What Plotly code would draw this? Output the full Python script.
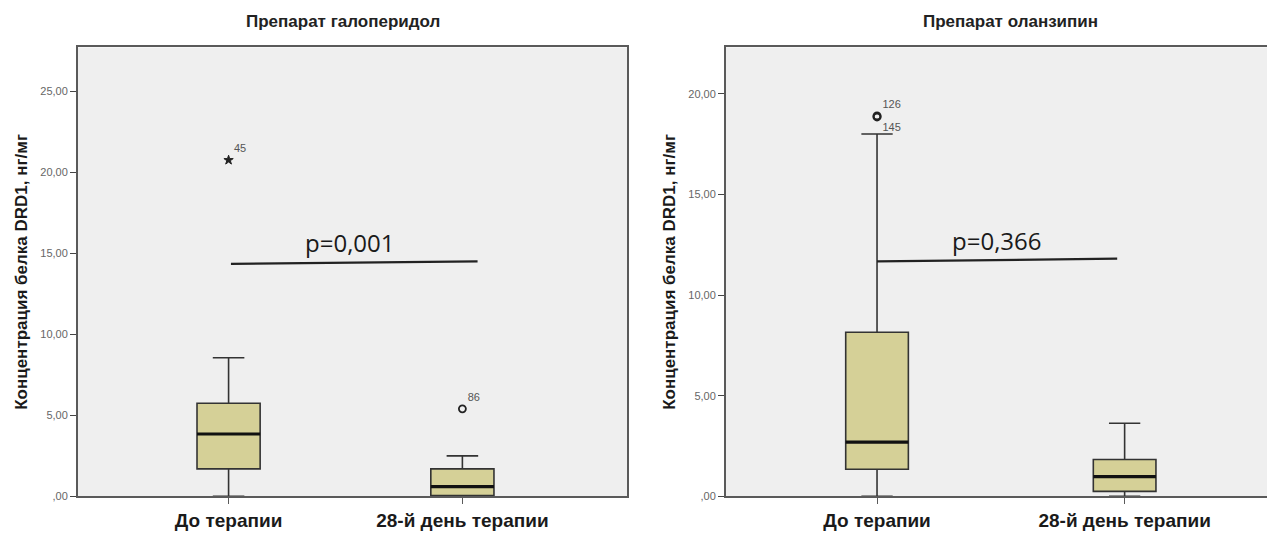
import plotly.graph_objects as go

# ---------------- data ----------------
categories = ["До терапии", "28-й день терапии"]
cat_pos = [0, 1]

y_tickvals_halo = [0, 5, 10, 15, 20, 25]
y_ticktext_halo = [",00", "5,00", "10,00", "15,00", "20,00", "25,00"]
y_tickvals_olan = [0, 5, 10, 15, 20]
y_ticktext_olan = [",00", "5,00", "10,00", "15,00", "20,00"]

# Haloperidol
halo_lower = [0.0, 0.0]
halo_q1 = [1.70, 0.05]
halo_median = [3.85, 0.60]
halo_q3 = [5.75, 1.70]
halo_upper = [8.55, 2.50]
halo_out_x = [0, 1]
halo_out_y = [20.75, 5.40]
halo_out_ids = ["45", "86"]
halo_out_symbols = ["star", "circle-open"]
halo_p_x = [0.01, 1.065]
halo_p_y = [14.35, 14.50]
halo_p_text = "p=0,001"

# Olanzapine
olan_lower = [0.0, 0.0]
olan_q1 = [1.35, 0.25]
olan_median = [2.70, 0.98]
olan_q3 = [8.15, 1.83]
olan_upper = [18.0, 3.63]
olan_out_x = [0, 0]
olan_out_y = [18.9, 18.85]
olan_out_ids = ["126", "145"]
olan_out_pos = ["top right", "bottom right"]
olan_p_x = [0.0, 0.97]
olan_p_y = [11.67, 11.81]
olan_p_text = "p=0,366"

titles = ["Препарат галоперидол", "Препарат оланзипин"]
y_title = "Концентрация белка DRD1, нг/мг"

# ---------------- style ----------------
W, H = 1267, 537
BOX_FILL = "#d5d097"
EDGE = "#333333"
FRAME = "#5a5a5a"
BG = "#efefef"
LABEL_FONT = "Liberation Sans, Arial, sans-serif"
SMALL_FONT = "Liberation Sans Narrow, Arial Narrow, sans-serif"

fig = go.Figure()


def add_panel(xa, ya, lower, q1, med, q3, upper, width):
    fig.add_trace(go.Box(
        x=cat_pos, lowerfence=lower, q1=q1, median=med, q3=q3, upperfence=upper,
        width=width, whiskerwidth=0.5, fillcolor=BOX_FILL,
        line=dict(color=EDGE, width=1.6), boxpoints=False,
        xaxis=xa, yaxis=ya, showlegend=False, hoverinfo="skip"))
    for i, m in zip(cat_pos, med):
        fig.add_trace(go.Scatter(
            x=[i - width / 2, i + width / 2], y=[m, m], mode="lines",
            line=dict(color="#111111", width=3.2),
            xaxis=xa, yaxis=ya, showlegend=False, hoverinfo="skip"))


add_panel("x", "y", halo_lower, halo_q1, halo_median, halo_q3, halo_upper, 0.27)
add_panel("x2", "y2", olan_lower, olan_q1, olan_median, olan_q3, olan_upper, 0.253)

# outliers
for xv, yv, lab, sym in zip(halo_out_x, halo_out_y, halo_out_ids, halo_out_symbols):
    fig.add_trace(go.Scatter(
        x=[xv], y=[yv], mode="markers+text", text=[lab], textposition="top right",
        textfont=dict(family=SMALL_FONT, size=11, color="#555"),
        marker=dict(symbol=sym, size=7, color="#222",
                    line=dict(color="#222", width=1.0 if sym == "star" else 1.8)),
        xaxis="x", yaxis="y", showlegend=False, hoverinfo="skip"))

for xv, yv, lab, pos in zip(olan_out_x, olan_out_y, olan_out_ids, olan_out_pos):
    fig.add_trace(go.Scatter(
        x=[xv], y=[yv], mode="markers+text", text=[lab], textposition=pos,
        textfont=dict(family=SMALL_FONT, size=11, color="#555"),
        marker=dict(symbol="circle-open", size=7, color="#222", line=dict(color="#222", width=2)),
        xaxis="x2", yaxis="y2", showlegend=False, hoverinfo="skip"))

# p-value lines
fig.add_trace(go.Scatter(x=halo_p_x, y=halo_p_y, mode="lines",
                         line=dict(color="#222", width=2.2),
                         xaxis="x", yaxis="y", showlegend=False, hoverinfo="skip"))
fig.add_trace(go.Scatter(x=olan_p_x, y=olan_p_y, mode="lines",
                         line=dict(color="#222", width=2.2),
                         xaxis="x2", yaxis="y2", showlegend=False, hoverinfo="skip"))

annotations = [
    dict(text=halo_p_text, x=sum(halo_p_x) / 2 - 0.02, y=max(halo_p_y), xref="x", yref="y",
         yanchor="bottom", yshift=0, showarrow=False,
         font=dict(family="Open Sans, sans-serif", size=24, color="#1a1a1a")),
    dict(text=olan_p_text, x=sum(olan_p_x) / 2, y=max(olan_p_y), xref="x2", yref="y2",
         yanchor="bottom", yshift=0, showarrow=False,
         font=dict(family="Open Sans, sans-serif", size=24, color="#1a1a1a")),
    dict(text=titles[0], x=343 / W, y=1 - 22 / H, xref="paper", yref="paper",
         xanchor="center", yanchor="middle",
         showarrow=False, font=dict(family=LABEL_FONT, size=17, color="#222", weight="bold")),
    dict(text=titles[1], x=1010 / W, y=1 - 22 / H, xref="paper", yref="paper",
         xanchor="center", yanchor="middle",
         showarrow=False, font=dict(family=LABEL_FONT, size=17, color="#222", weight="bold")),
]

y_dom = [1 - 502 / H, 1 - 48 / H]
tickfont = dict(family=SMALL_FONT, size=11, color="#666")
xtickfont = dict(family=LABEL_FONT, size=19, color="#1a1a1a", weight="bold")
ytitle = dict(text=y_title, font=dict(family=LABEL_FONT, size=17, color="#1a1a1a", weight="bold"),
              standoff=8)

fig.update_layout(
    width=W, height=H,
    margin=dict(l=0, r=0, t=0, b=0),
    paper_bgcolor="white",
    plot_bgcolor=BG,
    annotations=annotations,
    xaxis=dict(domain=[78 / W, 627 / W], range=[-0.644, 1.704], tickvals=cat_pos, ticktext=categories,
               tickfont=xtickfont, ticks="outside", ticklen=6, tickcolor=FRAME,
               showline=True, linecolor=FRAME, linewidth=2, mirror=True,
               showgrid=False, zeroline=False, anchor="y"),
    yaxis=dict(domain=y_dom, range=[0, 27.7], tickvals=y_tickvals_halo, ticktext=y_ticktext_halo,
               tickfont=tickfont, ticks="outside", ticklen=6, tickcolor="#444",
               showline=True, linecolor=FRAME, linewidth=2, mirror=True,
               showgrid=False, zeroline=False, title=ytitle, anchor="x"),
    xaxis2=dict(domain=[726 / W, 1.0], range=[-0.61, 1.575], tickvals=cat_pos, ticktext=categories,
                tickfont=xtickfont, ticks="outside", ticklen=6, tickcolor=FRAME,
                showline=True, linecolor=FRAME, linewidth=2, mirror=True,
                showgrid=False, zeroline=False, anchor="y2"),
    yaxis2=dict(domain=y_dom, range=[0, 22.3], tickvals=y_tickvals_olan, ticktext=y_ticktext_olan,
                tickfont=tickfont, ticks="outside", ticklen=6, tickcolor="#444",
                showline=True, linecolor=FRAME, linewidth=2, mirror=False,
                showgrid=False, zeroline=False, title=ytitle, anchor="x2"),
)

fig.write_html(
    "out.html",
    config={"displayModeBar": False},
    post_script="document.body.style.margin='0';document.body.style.overflow='hidden';",
)
